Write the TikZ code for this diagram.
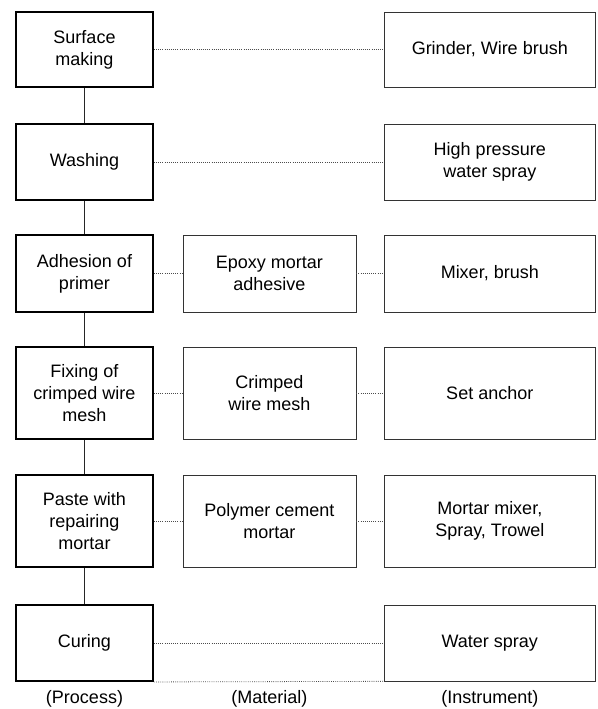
\documentclass[tikz,border=0pt]{standalone}
\usepackage{fontspec}
\setmainfont{Liberation Sans}
\usetikzlibrary{positioning}

\begin{document}
\begin{tikzpicture}[
  x=0.75pt, y=-0.75pt,
  font=\fontsize{13.5pt}{16.5pt}\selectfont,
  proc/.style={
    rectangle,
    draw=black,
    line width=1.4pt,
    minimum width=102.75pt,
    inner sep=2pt,
    align=center,
  },
  item/.style={
    rectangle,
    draw=black!80,
    line width=0.5pt,
    inner sep=2pt,
    align=center,
  },
  mat/.style={item, minimum width=129.75pt},
  tool/.style={item, minimum width=158.25pt},
  link/.style={densely dotted, line width=0.6pt, draw=black!70},
  flow/.style={line width=0.6pt, draw=black!85},
  tag/.style={inner sep=0pt},
]
  \useasboundingbox (0,0) rectangle (598,709);

  % --- Left: process column ---
  \node[proc, minimum height=56.25pt] (surf) at (84.5,49.5) {Surface\\making};
  \node[proc, minimum height=57pt, below=26.35pt of surf] (wash) {Washing};
  \node[proc, minimum height=57.75pt, below=24.85pt of wash] (adh) {Adhesion of\\primer};
  \node[proc, minimum height=69pt, below=24.85pt of adh] (fix) {Fixing of\\crimped wire\\mesh};
  \node[proc, minimum height=69pt, below=25.6pt of fix] (paste) {Paste with\\repairing\\mortar};
  \node[proc, minimum height=57pt, below=27.1pt of paste] (cure) {Curing};

  \foreach \a/\b in {surf/wash, wash/adh, adh/fix, fix/paste, paste/cure} {
    \draw[flow] (\a.south) -- (\b.north);
  }

  % --- Middle: materials ---
  \node[mat, minimum height=57.75pt, right=21.5pt of adh] (epoxy) {Epoxy mortar\\adhesive};
  \node[mat, minimum height=69pt, right=21.5pt of fix] (mesh) {Crimped\\wire mesh};
  \node[mat, minimum height=69pt, right=21.5pt of paste] (poly) {Polymer cement\\mortar};

  % --- Right: instruments ---
  \node[tool, minimum height=56.25pt, right=172.5pt of surf] (grind) {Grinder, Wire brush};
  \node[tool, minimum height=57pt, right=172.5pt of wash] (spray) {High pressure\\water spray};
  \node[tool, minimum height=57.75pt, right=172.5pt of adh] (mixer) {Mixer, brush};
  \node[tool, minimum height=69pt, right=172.5pt of fix] (anchor) {Set anchor};
  \node[tool, minimum height=69pt, right=172.5pt of paste] (trowel) {Mortar mixer,\\Spray, Trowel};
  \node[tool, minimum height=57pt, right=172.5pt of cure] (water) {Water spray};

  \draw[link] (surf.east) -- (grind.west);
  \draw[link] (wash.east) -- (spray.west);
  \foreach \p/\m/\t in {adh/epoxy/mixer, fix/mesh/anchor, paste/poly/trowel} {
    \draw[link] (\p.east) -- (\m.west);
    \draw[link] (\m.east) -- (\t.west);
  }
  \draw[link] (cure.east) -- (water.west);
  \draw[link] (cure.south east) -- (water.south west);

  % --- Column captions ---
  \coordinate (mcol) at (cure.south -| poly);
  \coordinate (tcol) at (cure.south -| water);
  \node[tag, below=6.5pt of cure] (lproc) {(Process)};
  \node[tag, below=6.5pt of mcol] (lmat) {(Material)};
  \node[tag, below=6.5pt of tcol] (ltool) {(Instrument)};

\end{tikzpicture}
\end{document}
